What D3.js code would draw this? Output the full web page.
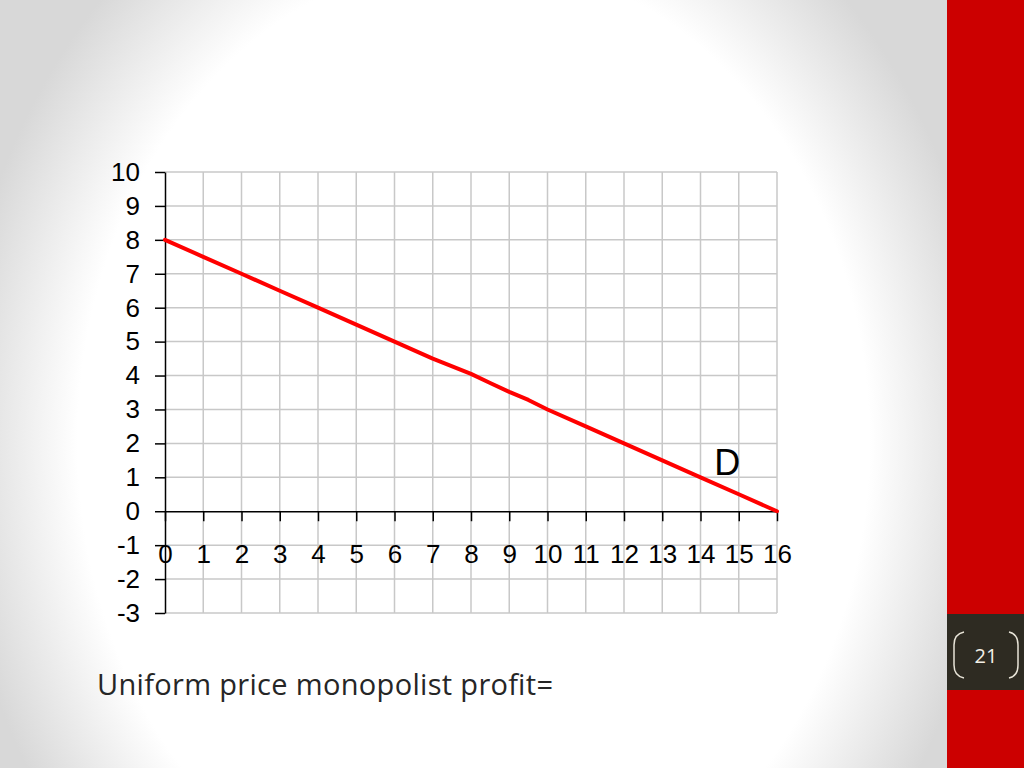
<!DOCTYPE html>
<html>
<head>
<meta charset="utf-8">
<script src="https://cdn.jsdelivr.net/npm/d3@7"></script>
<style>
  html, body { margin: 0; padding: 0; background: #fff; }
  svg { display: block; }
</style>
</head>
<body>
<svg id="slide"></svg>
<script>
// demand curve points
const quantity = [0, 1, 2, 3, 4, 5, 6, 7, 8, 8.5, 9, 9.5, 10, 11, 12, 13, 14, 15, 16];
const price = [8, 7.5, 7, 6.5, 6, 5.5, 5, 4.5, 4.05, 3.78, 3.52, 3.28, 3, 2.5, 2, 1.5, 1, 0.5, 0];
const xTicks = [0, 1, 2, 3, 4, 5, 6, 7, 8, 9, 10, 11, 12, 13, 14, 15, 16];
const yTicks = [-3, -2, -1, 0, 1, 2, 3, 4, 5, 6, 7, 8, 9, 10];
const curveLabel = "D";
const caption = "Uniform price monopolist profit=";
const pageNumber = "21";

const width = 1024;
const height = 768;
const margin = {top: 172, right: 247, bottom: 155, left: 165};

const svg = d3.select("#slide")
    .attr("width", width)
    .attr("height", height);

// slide background, white middle going grey at the sides
const defs = svg.append("defs");
const grad = defs.append("radialGradient")
    .attr("id", "bg")
    .attr("cx", 0.5).attr("cy", 0.55).attr("r", 0.55)
    .attr("gradientTransform", "translate(0.5 0.5) scale(1 1.5) translate(-0.5 -0.5)");
grad.append("stop").attr("offset", "76%").attr("stop-color", "#ffffff");
grad.append("stop").attr("offset", "100%").attr("stop-color", "#d8d8d8");

svg.append("rect")
    .attr("width", 947).attr("height", height)
    .attr("fill", "url(#bg)");

svg.append("rect")
    .attr("x", 947).attr("width", width - 947).attr("height", height)
    .attr("fill", "#cc0000");

// page number box
const pg = svg.append("g");
pg.append("rect")
    .attr("x", 947).attr("y", 614)
    .attr("width", width - 947).attr("height", 76)
    .attr("fill", "#2e2b22");
pg.append("path")
    .attr("d", "M964,632 Q954,634 954,645 L954,665 Q954,676 964,678")
    .attr("fill", "none").attr("stroke", "#e8e4d8").attr("stroke-width", 1.5);
pg.append("path")
    .attr("d", "M1009,632 Q1018,634 1018,645 L1018,665 Q1018,676 1009,678")
    .attr("fill", "none").attr("stroke", "#e8e4d8").attr("stroke-width", 1.5);
pg.append("text")
    .attr("x", 986).attr("y", 663)
    .attr("text-anchor", "middle")
    .style("font", "20px 'Open Sans', sans-serif")
    .style("fill", "#f2efe6")
    .text(pageNumber);

// chart
const x = d3.scaleLinear()
    .domain([0, 16])
    .range([margin.left, width - margin.right]);

const y = d3.scaleLinear()
    .domain([-3, 10])
    .range([height - margin.bottom, margin.top]);

const grid = svg.append("g").attr("class", "grid");

grid.selectAll("line.v")
    .data(xTicks.slice(1))
    .join("line")
    .attr("class", "v")
    .attr("x1", d => x(d)).attr("x2", d => x(d))
    .attr("y1", y(10)).attr("y2", y(-3))
    .attr("stroke", "#c8c8c8").attr("stroke-width", 1.5);

grid.selectAll("line.h")
    .data(yTicks.filter(d => d !== 0))
    .join("line")
    .attr("class", "h")
    .attr("x1", x(0)).attr("x2", x(16))
    .attr("y1", d => y(d)).attr("y2", d => y(d))
    .attr("stroke", "#c8c8c8").attr("stroke-width", 1.5);

const fmt = d => String(d);

// y axis
const yAxis = svg.append("g")
    .attr("transform", `translate(${x(0)},0)`)
    .call(d3.axisLeft(y).tickValues(yTicks).tickFormat(fmt).tickSize(10).tickPadding(15).tickSizeOuter(0));
yAxis.select(".domain").attr("stroke", "#000").attr("stroke-width", 1.5);
yAxis.selectAll(".tick line").attr("stroke", "#000").attr("stroke-width", 1.5);
yAxis.selectAll(".tick text")
    .style("font", "26px 'Liberation Sans', Arial, sans-serif")
    .style("fill", "#000");

// x axis along price 0
const xAxis = svg.append("g")
    .attr("transform", `translate(0,${y(0)})`)
    .call(d3.axisBottom(x).tickValues(xTicks).tickFormat(fmt).tickSize(10).tickPadding(23).tickSizeOuter(0));
xAxis.select(".domain").attr("stroke", "#000").attr("stroke-width", 1.5);
xAxis.selectAll(".tick line").attr("stroke", "#000").attr("stroke-width", 1.5);
xAxis.selectAll(".tick text")
    .style("font", "26px 'Liberation Sans', Arial, sans-serif")
    .style("fill", "#000");

// demand line
const line = d3.line()
    .x((d, i) => x(quantity[i]))
    .y(d => y(d));

svg.append("path")
    .datum(price)
    .attr("d", line)
    .attr("fill", "none")
    .attr("stroke", "#ff0000")
    .attr("stroke-width", 4)
    .attr("stroke-linejoin", "round")
    .attr("stroke-linecap", "round");

svg.append("text")
    .attr("x", x(14.7)).attr("y", y(1) - 2)
    .attr("text-anchor", "middle")
    .style("font", "36px 'Liberation Sans', Arial, sans-serif")
    .style("fill", "#000")
    .text(curveLabel);

// caption under the chart
svg.append("text")
    .attr("x", 97).attr("y", 695)
    .attr("textLength", 456)
    .style("font", "29px 'Open Sans', sans-serif")
    .style("fill", "#262626")
    .text(caption);
</script>
</body>
</html>
